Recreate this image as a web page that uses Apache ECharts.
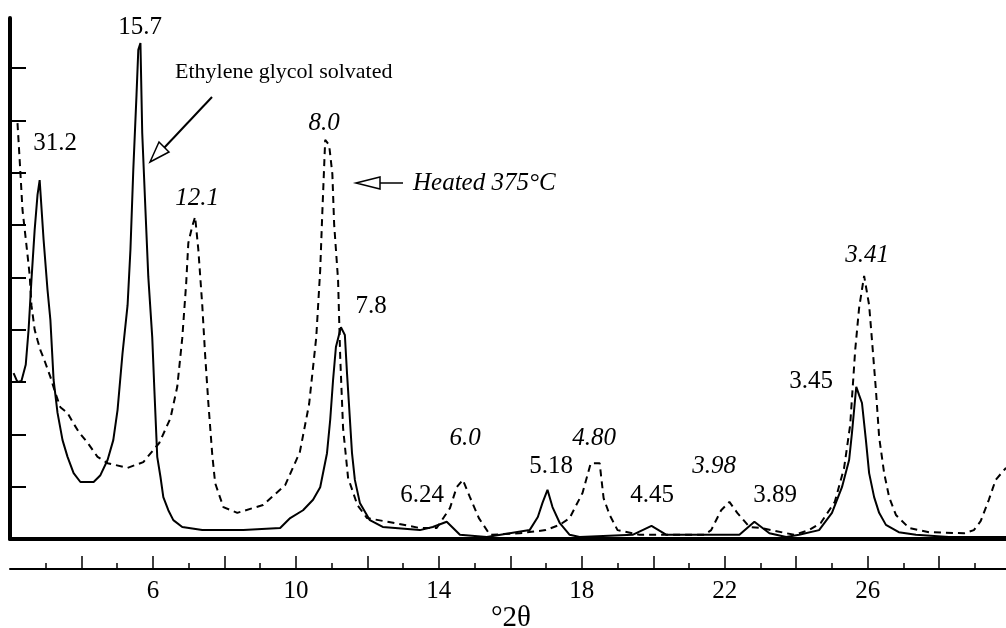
<!DOCTYPE html>
<html>
<head>
<meta charset="utf-8">
<title>XRD pattern</title>
<script src="https://cdn.jsdelivr.net/npm/echarts@6/dist/echarts.min.js"></script>
<style>
html, body { margin: 0; padding: 0; background: #fff; }
#chart { width: 1006px; height: 628px; }
</style>
</head>
<body>
<div id="chart"></div>
<script>
// ethylene glycol solvated (solid line)
var egX = [2.10, 2.21, 2.32, 2.44, 2.52, 2.60, 2.69, 2.77, 2.83, 2.94, 3.05, 3.13, 3.22, 3.33, 3.47, 3.61, 3.78, 3.97, 4.34, 4.53,
    4.73, 4.89, 5.01, 5.15, 5.29, 5.37, 5.45, 5.54, 5.59, 5.65, 5.70, 5.79, 5.87, 5.98, 6.04, 6.12, 6.21, 6.29, 6.43, 6.57,
    6.82, 7.38, 8.53, 9.56, 9.84, 10.20, 10.48, 10.68, 10.87, 10.96, 11.04, 11.12, 11.26, 11.37, 11.43, 11.49, 11.57, 11.65, 11.79, 12.07,
    12.43, 13.47, 13.83, 14.22, 14.59, 15.34, 16.54, 16.77, 16.90, 17.04, 17.18, 17.38, 17.66, 17.94, 19.42, 19.95, 20.37, 22.41, 22.83, 23.25,
    23.72, 24.08, 24.64, 25.00, 25.28, 25.48, 25.56, 25.68, 25.76, 25.84, 25.95, 26.04, 26.18, 26.32, 26.51, 26.87, 27.35, 28.27, 29.87]
var egY = [3.17, 3.00, 3.02, 3.33, 4.00, 4.95, 5.91, 6.58, 6.86, 5.72, 4.76, 4.19, 3.04, 2.41, 1.89, 1.57, 1.26, 1.09, 1.09, 1.22,
    1.51, 1.89, 2.47, 3.56, 4.47, 5.53, 7.06, 8.49, 9.35, 9.48, 7.76, 6.29, 5.01, 3.86, 2.85, 1.57, 1.19, 0.80, 0.55, 0.36,
    0.23, 0.17, 0.17, 0.21, 0.40, 0.55, 0.75, 0.99, 1.64, 2.28, 3.04, 3.67, 4.05, 3.90, 3.17, 2.52, 1.64, 1.13, 0.69, 0.36,
    0.23, 0.17, 0.23, 0.33, 0.08, 0.04, 0.17, 0.42, 0.69, 0.94, 0.61, 0.31, 0.08, 0.04, 0.08, 0.25, 0.08, 0.08, 0.33, 0.11,
    0.04, 0.08, 0.17, 0.50, 0.99, 1.51, 2.03, 2.91, 2.75, 2.60, 1.89, 1.26, 0.80, 0.50, 0.27, 0.13, 0.08, 0.04, 0.04]

// heated 375 C (dashed line)
var heatX = [2.21, 2.27, 2.35, 2.46, 2.55, 2.60, 2.69, 2.77, 2.85, 2.94, 3.13, 3.27, 3.41, 3.61, 3.75, 3.92, 4.17, 4.45, 4.73, 5.29,
    5.73, 6.18, 6.49, 6.68, 6.82, 6.93, 6.99, 7.10, 7.18, 7.27, 7.38, 7.46, 7.55, 7.66, 7.74, 7.97, 8.36, 9.08, 9.70, 10.11,
    10.37, 10.57, 10.68, 10.74, 10.82, 10.93, 11.02, 11.07, 11.18, 11.24, 11.32, 11.46, 11.72, 11.99, 12.72, 13.47, 13.94, 14.31, 14.50, 14.67,
    14.87, 15.12, 15.43, 16.26, 16.99, 17.38, 17.66, 18.02, 18.25, 18.50, 18.61, 18.78, 19.00, 19.61, 21.43, 21.62, 21.90, 22.13, 22.35, 22.69,
    23.02, 23.94, 24.36, 24.69, 25.08, 25.34, 25.51, 25.65, 25.76, 25.90, 26.04, 26.12, 26.23, 26.32, 26.46, 26.60, 26.79, 27.16, 27.72, 28.70,
    28.97, 29.16, 29.39, 29.58, 29.87]
var heatY = [7.95, 7.25, 6.29, 5.62, 5.05, 4.47, 4.00, 3.80, 3.61, 3.46, 3.10, 2.79, 2.52, 2.41, 2.24, 2.05, 1.84, 1.57, 1.45, 1.36,
    1.47, 1.84, 2.31, 2.91, 3.84, 4.89, 5.66, 5.98, 6.16, 5.53, 4.47, 3.52, 2.60, 1.61, 1.07, 0.61, 0.50, 0.65, 1.03, 1.66,
    2.58, 3.86, 5.14, 6.25, 7.63, 7.53, 6.98, 6.02, 4.95, 3.48, 2.12, 1.17, 0.65, 0.40, 0.31, 0.21, 0.21, 0.59, 0.99, 1.13,
    0.80, 0.40, 0.08, 0.11, 0.17, 0.27, 0.40, 0.88, 1.45, 1.45, 0.78, 0.46, 0.17, 0.08, 0.08, 0.17, 0.55, 0.71, 0.50, 0.23,
    0.21, 0.08, 0.17, 0.31, 0.71, 1.36, 2.18, 3.61, 4.42, 5.03, 4.47, 3.80, 2.85, 1.95, 1.26, 0.80, 0.46, 0.21, 0.13, 0.11,
    0.17, 0.34, 0.75, 1.13, 1.36]

// axis ticks and labels
var xLabelValues = [6, 10, 14, 18, 22, 26]
var xMajorTicks = [4, 6, 8, 10, 12, 14, 16, 18, 20, 22, 24, 26, 28]
var yTicks = [1, 2, 3, 4, 5, 6, 7, 8, 9]

// peak d-spacing labels
var egLabels = ['31.2', '15.7', '7.8', '6.24', '5.18', '4.45', '3.89', '3.45']
var heatLabels = ['12.1', '8.0', '6.0', '4.80', '3.98', '3.41']
var egName = 'Ethylene glycol solvated'
var heatName = 'Heated 375°C'
var xName = '°2θ'

// label placement (pixels)
var egLabelPos = [[55, 143], [140, 27], [371, 306], [422, 495], [551, 466], [652, 495], [775, 495], [811, 381]]
var heatLabelPos = [[197, 198], [324, 123], [465, 438], [594, 438], [714, 466], [867, 255]]

var serif = '"Liberation Serif", "Times New Roman", serif'
var xMin = 2, xMax = 29.87

function pairs(xs, ys) {
    return xs.map(function (x, i) { return [x, ys[i]] })
}

function label(text, pos, italic, size) {
    return {
        type: 'text', x: pos[0], y: pos[1], z: 100,
        style: {
            text: text, fill: '#000',
            font: (italic ? 'italic ' : '') + size + 'px ' + serif,
            align: 'center', verticalAlign: 'middle'
        }
    }
}

var graphics = []
egLabels.forEach(function (t, i) { graphics.push(label(t, egLabelPos[i], false, 25)) })
heatLabels.forEach(function (t, i) { graphics.push(label(t, heatLabelPos[i], true, 25)) })
graphics.push(label(xName, [511, 618], false, 29))

graphics.push({
    type: 'text', x: 175, y: 72, z: 100,
    style: { text: egName, fill: '#000', font: '22px ' + serif, align: 'left', verticalAlign: 'middle' }
})
graphics.push({
    type: 'text', x: 413, y: 183, z: 100,
    style: { text: heatName, fill: '#000', font: 'italic 25px ' + serif, align: 'left', verticalAlign: 'middle' }
})
// arrows
graphics.push({ type: 'line', z: 100, shape: { x1: 212, y1: 97, x2: 164, y2: 148 }, style: { stroke: '#000', lineWidth: 2 } })
graphics.push({ type: 'polygon', z: 100, shape: { points: [[150, 162], [169, 152], [159, 142]] }, style: { fill: '#fff', stroke: '#000', lineWidth: 1.5 } })
graphics.push({ type: 'line', z: 100, shape: { x1: 380, y1: 183, x2: 403, y2: 183 }, style: { stroke: '#000', lineWidth: 1.5 } })
graphics.push({ type: 'polygon', z: 100, shape: { points: [[356, 183], [380, 177], [380, 189]] }, style: { fill: '#fff', stroke: '#000', lineWidth: 1.5 } })

var chart = echarts.init(document.getElementById('chart'))

var option = {
    animation: false,
    backgroundColor: '#fff',
    grid: [
        { left: 10, right: 0, top: 18, bottom: 89, containLabel: false, outerBoundsMode: 'none' },
        // thin band holding the separate scale below the plot
        { left: 10, right: 0, top: 555, bottom: 59, containLabel: false, outerBoundsMode: 'none' }
    ],
    xAxis: [
        {
            type: 'value', gridIndex: 0, min: xMin, max: xMax, position: 'bottom',
            axisLine: { show: true, onZero: false, lineStyle: { color: '#000', width: 4 } },
            axisTick: { show: false }, axisLabel: { show: false }, splitLine: { show: false }
        },
        {
            type: 'value', gridIndex: 1, min: xMin, max: xMax, interval: 2, position: 'bottom',
            axisLine: { show: true, onZero: false, lineStyle: { color: '#000', width: 2 } },
            axisTick: { show: true, inside: true, length: 13, customValues: xMajorTicks, lineStyle: { color: '#000', width: 1.5 } },
            minorTick: { show: true, splitNumber: 2, length: 6, lineStyle: { color: '#000', width: 1.5 } },
            axisLabel: { show: true, customValues: xLabelValues, margin: 10, color: '#000', fontFamily: serif, fontSize: 25 },
            splitLine: { show: false }, minorSplitLine: { show: false }
        }
    ],
    yAxis: [
        {
            type: 'value', gridIndex: 0, min: 0, max: 9.96,
            axisLine: { show: true, onZero: false, lineStyle: { color: '#000', width: 4 } },
            axisTick: { show: true, inside: true, length: 16, customValues: yTicks, lineStyle: { color: '#000', width: 2 } },
            axisLabel: { show: false }, splitLine: { show: false }
        },
        { type: 'value', gridIndex: 1, min: 0, max: 1, show: false }
    ],
    series: [
        {
            name: egName, type: 'line', xAxisIndex: 0, yAxisIndex: 0, data: pairs(egX, egY),
            symbol: 'none', lineStyle: { color: '#000', width: 2 }
        },
        {
            name: heatName, type: 'line', xAxisIndex: 0, yAxisIndex: 0, data: pairs(heatX, heatY),
            symbol: 'none', lineStyle: { color: '#000', width: 2, type: [7, 5] }
        }
    ],
    graphic: graphics
}

chart.setOption(option)
</script>
</body>
</html>
